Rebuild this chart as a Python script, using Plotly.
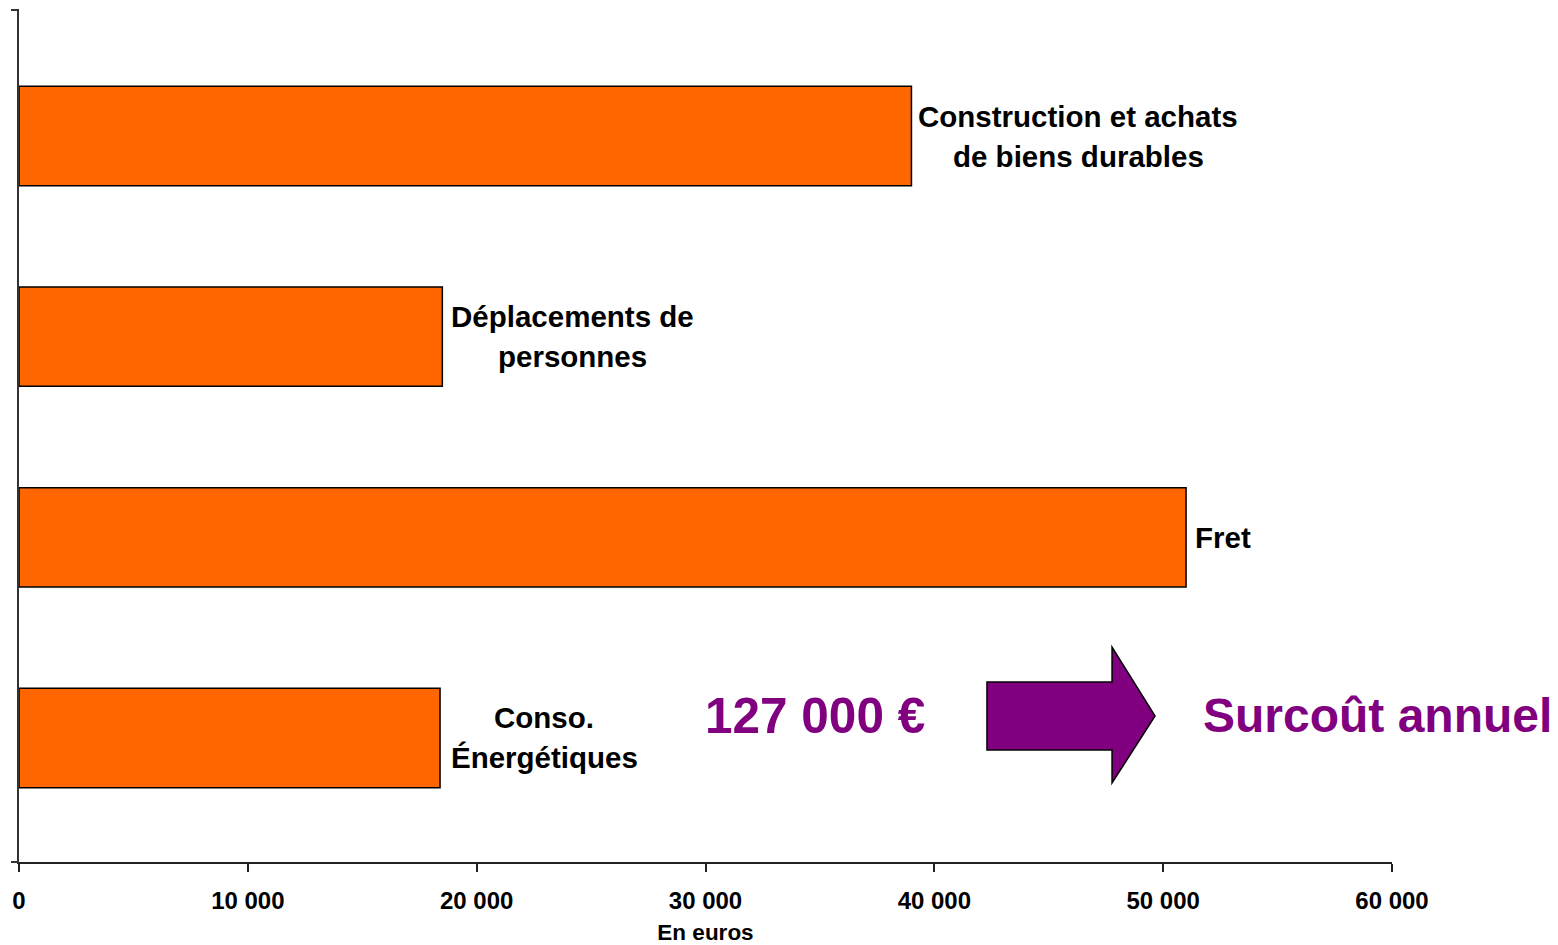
import plotly.graph_objects as go

# ---- data ----
categories = ["Conso. Énergétiques", "Fret", "Déplacements de personnes",
              "Construction et achats de biens durables"]
values = [18400, 51000, 18500, 39000]
label_lines = [["Conso.", "Énergétiques"], ["Fret"],
               ["Déplacements de", "personnes"],
               ["Construction et achats", "de biens durables"]]
x_tickvals = [0, 10000, 20000, 30000, 40000, 50000, 60000]
x_ticktext = ["0", "10 000", "20 000", "30 000", "40 000", "50 000", "60 000"]
total_text = "127 000 €"
total_label = "Surcoût annuel"
x_title = "En euros"

ORANGE = "#FF6600"
PURPLE = "#800080"
FONT = "Liberation Sans, Arial, sans-serif"

fig = go.Figure()
fig.add_trace(go.Bar(
    y=categories, x=values, orientation="h",
    width=0.495,
    marker=dict(color=ORANGE, line=dict(color="#000000", width=1.5)),
    hoverinfo="skip",
))

# label placement styles (pixel offsets)
label_centre_offset = [104, 7, 130, 167]
label_anchor = ["center", "left", "center", "center"]

annotations = []
for cat, val, lines, off, anc in zip(categories, values, label_lines,
                                     label_centre_offset, label_anchor):
    n = len(lines)
    for i, line in enumerate(lines):
        yshift = 0 if n == 1 else (20 if i == 0 else -20)
        annotations.append(dict(
            x=val, y=cat, xref="x", yref="y", text=f"<b>{line}</b>",
            showarrow=False, xanchor=anc, yanchor="middle",
            xshift=off, yshift=yshift,
            font=dict(family=FONT, size=29.5, color="#000000"),
        ))

annotations.append(dict(
    x=0.4985, y=0.1715, xref="paper", yref="paper", text=f"<b>{total_text}</b>",
    showarrow=False, xanchor="left", yanchor="middle",
    font=dict(family=FONT, size=49.5, color=PURPLE),
))
annotations.append(dict(
    x=0.8610, y=0.1715, xref="paper", yref="paper", text=f"<b>{total_label}</b>",
    showarrow=False, xanchor="left", yanchor="middle",
    font=dict(family=FONT, size=48, color=PURPLE),
))

# arrow shape (paper coordinates)
ax0, axh, axt = 0.7050, 0.7961, 0.8274
ys_top, ys_bot, yh_top, yh_bot, ytip = 0.2113, 0.1315, 0.2523, 0.0927, 0.1714
arrow_path = (f"M {ax0},{ys_top} L {axh},{ys_top} L {axh},{yh_top} L {axt},{ytip} "
              f"L {axh},{yh_bot} L {axh},{ys_bot} L {ax0},{ys_bot} Z")
shapes = [
    dict(type="path", xref="paper", yref="paper", path=arrow_path,
         fillcolor=PURPLE, line=dict(color="#000000", width=1.5)),
    # small end ticks on the category axis
    dict(type="line", xref="paper", yref="paper", xsizemode="pixel", xanchor=0,
         x0=-8, x1=0, y0=1, y1=1, line=dict(color="#333333", width=2)),
    dict(type="line", xref="paper", yref="paper", xsizemode="pixel", xanchor=0,
         x0=-8, x1=0, y0=0, y1=0, line=dict(color="#333333", width=2)),
]

fig.update_layout(
    width=1550, height=937,
    margin=dict(l=11, r=166, t=2, b=83),
    paper_bgcolor="white", plot_bgcolor="white",
    showlegend=False,
    annotations=annotations,
    shapes=shapes,
    xaxis=dict(
        range=[0, 60000], tickvals=x_tickvals,
        ticktext=[f"<b>{t}</b>" for t in x_ticktext],
        showgrid=False, zeroline=False,
        showline=True, linecolor="#222222", linewidth=2,
        ticks="outside", ticklen=8, tickwidth=2, tickcolor="#222222",
        ticklabelstandoff=8,
        tickfont=dict(family=FONT, size=24, color="#000000"),
        title=dict(text=f"<b>{x_title}</b>", standoff=11,
                   font=dict(family=FONT, size=22.5, color="#000000")),
    ),
    yaxis=dict(
        type="category", categoryorder="array", categoryarray=categories,
        range=[-0.618, 3.628],
        showticklabels=False, ticks="", showgrid=False, zeroline=False,
        showline=True, linecolor="#333333", linewidth=2,
    ),
    font=dict(family=FONT),
)

fig.write_html("out.html")
